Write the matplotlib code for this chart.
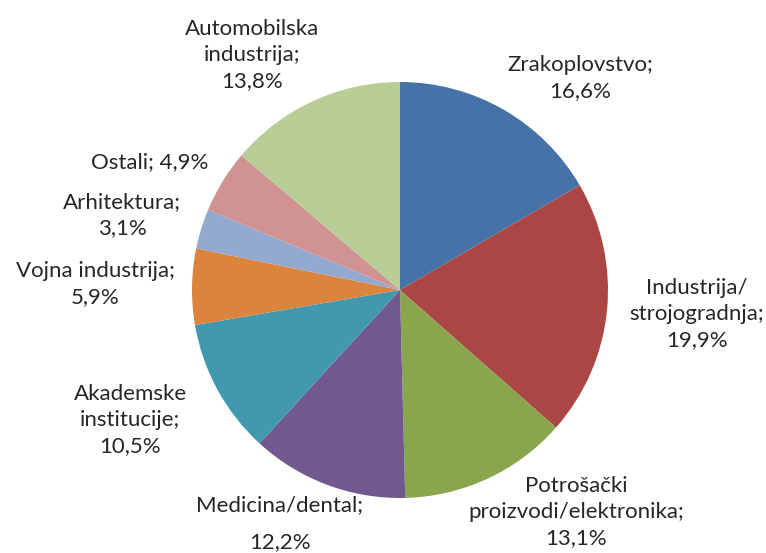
import matplotlib.pyplot as plt

# share of 3D printing use by sector (%), clockwise from 12 o'clock
sectors = ["Zrakoplovstvo", "Industrija/\nstrojogradnja", "Potrošački\nproizvodi/elektronika",
           "Medicina/dental", "Akademske\ninstitucije", "Vojna industrija", "Arhitektura",
           "Ostali", "Automobilska\nindustrija"]
shares = [16.6, 19.9, 13.1, 12.2, 10.5, 5.9, 3.1, 4.9, 13.8]
colors = ["#4572A7", "#AA4643", "#89A54E", "#71588F", "#4198AF",
          "#DB843D", "#93A9CF", "#D19392", "#B9CD96"]

# label text layout (pixel coords of image, y from top)
label_text = [
    "Zrakoplovstvo;\n16,6%",
    "Industrija/\nstrojogradnja;\n19,9%",
    "Potrošački\nproizvodi/elektronika;\n13,1%",
    "Medicina/dental;",
    "Akademske\ninstitucije;\n10,5%",
    "Vojna industrija;\n5,9%",
    "Arhitektura;\n3,1%",
    "Ostali; 4,9%",
    "Automobilska\nindustrija;\n13,8%",
]
label_pos = [(580, 78), (697, 314), (576, 512), (280, 505), (130, 420),
             (95, 284), (122, 215), (150, 162), (252, 55)]

W, H = 766, 553
fig = plt.figure(figsize=(W / 100, H / 100), dpi=100)
ax = fig.add_axes([0, 0, 1, 1])

ax.pie(shares, colors=colors, startangle=90, counterclock=False,
       center=(400, H - 290), radius=208, frame=True,
       wedgeprops=dict(linewidth=0))
ax.set_xlim(0, W)
ax.set_ylim(0, H)
ax.set_aspect("equal")
ax.axis("off")

style = dict(ha="center", va="center", fontsize=16, family="Lato",
             color="#262626", linespacing=1.4)
for txt, (x, y) in zip(label_text, label_pos):
    ax.text(x, H - y, txt, **style)
ax.text(280, H - 542, "12,2%", **style)

fig.savefig("out.png", dpi=100, facecolor="white")
